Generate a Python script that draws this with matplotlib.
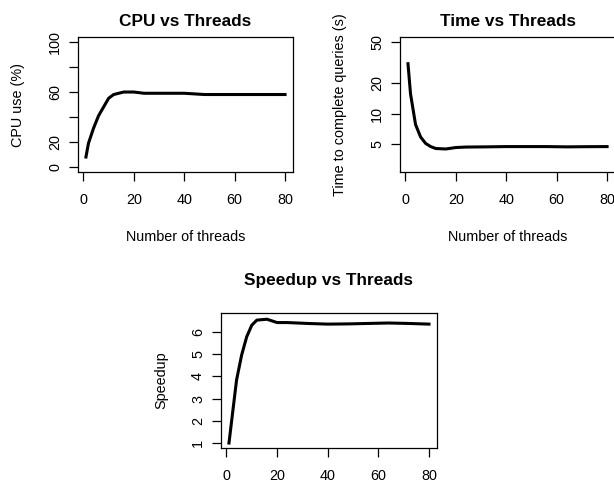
import numpy as np
import matplotlib
matplotlib.use("Agg")
import matplotlib.pyplot as plt

threads = [1, 2, 4, 6, 8, 10, 12, 16, 20, 24, 32, 40, 48, 56, 64, 72, 80]
cpu_use = [8, 19, 31, 41, 48, 55, 58, 60, 60, 59, 59, 59, 58, 58, 58, 58, 58]
run_time = [30.7, 15.6, 7.8, 5.9, 5.1, 4.75, 4.55, 4.5, 4.65, 4.7, 4.72, 4.75,
            4.75, 4.75, 4.72, 4.74, 4.75]
speedup = [1, 1.95, 3.84, 4.96, 5.78, 6.3, 6.53, 6.57, 6.42, 6.42, 6.38, 6.35,
           6.36, 6.38, 6.4, 6.38, 6.35]

x_ticks = [0, 20, 40, 60, 80]
cpu_ticks = [0, 20, 40, 60, 80, 100]
cpu_labels = ["0", "20", "", "60", "", "100"]
time_ticks = [5, 10, 20, 50]
speed_ticks = [1, 2, 3, 4, 5, 6]

plt.rcParams['font.family'] = ['Liberation Sans', 'DejaVu Sans']
plt.rcParams['font.size'] = 10.4

fig = plt.figure(figsize=(6.14, 4.84), dpi=100)

def r_style(ax, title, ylabel, xlabel=None, title_pad=7.9):
    # mimic R base graphics: full box, outward ticks, rotated y labels
    for s in ax.spines.values():
        s.set_linewidth(0.9)
    ax.tick_params(direction='out', length=6.5, width=0.9, labelsize=10.4)
    ax.tick_params(axis='x', pad=8.5)
    ax.tick_params(axis='y', pad=5)
    ax.minorticks_off()
    for lab in ax.get_yticklabels():
        lab.set_rotation(90)
        lab.set_va('center')
    ax.set_title(title, fontsize=12.4, fontweight='bold', pad=title_pad)
    ax.set_ylabel(ylabel, labelpad=16.5)
    if xlabel:
        ax.set_xlabel(xlabel, labelpad=16.5)

xlim = (-2.16, 83.16)

ax1 = fig.add_axes([0.1270, 0.6446, 0.3502, 0.2789])
ax1.plot(threads, cpu_use, color='black', lw=2.2)
ax1.set_xlim(xlim)
ax1.set_ylim(-4, 104)
ax1.set_xticks(x_ticks)
ax1.set_yticks(cpu_ticks)
ax1.set_yticklabels(cpu_labels)
r_style(ax1, "CPU vs Threads", "CPU use (%)", "Number of threads")

ax2 = fig.add_axes([0.6515, 0.6446, 0.3502, 0.2789])
ax2.plot(threads, run_time, color='black', lw=2.2)
ax2.set_yscale('log')
ax2.set_xlim(xlim)
ax2.set_ylim(10 ** 0.428, 10 ** 1.748)
ax2.set_xticks(x_ticks)
ax2.set_yticks(time_ticks)
ax2.set_yticklabels([str(t) for t in time_ticks])
r_style(ax2, "Time vs Threads", "Time to complete queries (s)", "Number of threads")

ax3 = fig.add_axes([0.3599, 0.0744, 0.3518, 0.2789])
ax3.plot(threads, speedup, color='black', lw=2.2)
ax3.set_xlim(xlim)
ax3.set_ylim(0.777, 6.85)
ax3.set_xticks(x_ticks)
ax3.set_yticks(speed_ticks)
r_style(ax3, "Speedup vs Threads", "Speedup", title_pad=20)

fig.savefig("out.png", dpi=100)
